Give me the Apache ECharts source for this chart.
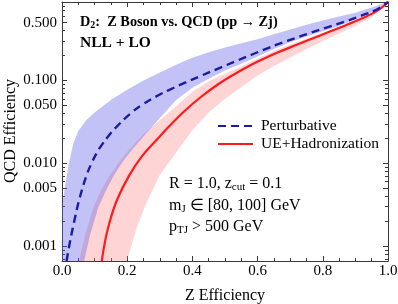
<!DOCTYPE html>
<html><head><meta charset="utf-8">
<script src="https://cdn.jsdelivr.net/npm/echarts@6/dist/echarts.min.js"></script>
<style>html,body{margin:0;padding:0;background:#fff}#c{width:398px;height:304px}</style>
</head><body><div id="c"></div>
<script>
// ---- data ----
const xTickLabels = ['0.0', '0.2', '0.4', '0.6', '0.8', '1.0'];
const yTickValues = [0.001, 0.005, 0.01, 0.05, 0.1, 0.5];
const yTickLabels = ['0.001', '0.005', '0.010', '0.050', '0.100', '0.500'];
const yMinorTicks = [0.0007, 0.0008, 0.0009, 0.002, 0.003, 0.004, 0.006, 0.007, 0.008, 0.009,
  0.02, 0.03, 0.04, 0.06, 0.07, 0.08, 0.09, 0.2, 0.3, 0.4, 0.6, 0.7, 0.8];
const Y_MIN = 0.00066, Y_MAX = 0.888;

// Perturbative (dashed) central curve: [Z eff, QCD eff]
const perturbative = [[0.014,0.00066],[0.024,0.0011],[0.04,0.00221],[0.055,0.00391],[0.076,0.00727],
  [0.09,0.0099],[0.106,0.0132],[0.121,0.01646],[0.147,0.02247],[0.162,0.02625],[0.208,0.0393],
  [0.248,0.0516],[0.294,0.0659],[0.328,0.0767],[0.376,0.0936],[0.426,0.1138],[0.479,0.1393],
  [0.53,0.169],[0.581,0.2047],[0.632,0.2466],[0.663,0.2745],[0.714,0.3243],[0.764,0.3789],
  [0.816,0.4416],[0.867,0.5131],[0.917,0.6043],[0.969,0.7319],[1.0,0.888]];
// Perturbative band edges
const perturbUpper = [[0,0.003],[0.01,0.00546],[0.02,0.0095],[0.035,0.0176],[0.05,0.0245],[0.075,0.0333],
  [0.1,0.0411],[0.15,0.0581],[0.2,0.0775],[0.25,0.1],[0.3,0.125],[0.35,0.155],[0.4,0.188],
  [0.45,0.219],[0.5,0.25],[0.55,0.282],[0.6,0.316],[0.65,0.362],[0.7,0.412],[0.75,0.47],
  [0.8,0.53],[0.85,0.595],[0.9,0.66],[0.95,0.76],[1.0,0.888]];
const perturbLower = [[0.068,0.00066],[0.086,0.00136],[0.111,0.0029],[0.135,0.0047],[0.16,0.0072],
  [0.185,0.0103],[0.21,0.0138],[0.25,0.021],[0.3,0.035],[0.35,0.058],[0.4,0.082],[0.45,0.105],
  [0.5,0.132],[0.55,0.159],[0.6,0.195],[0.65,0.24],[0.7,0.29],[0.75,0.34],[0.8,0.393],
  [0.85,0.455],[0.9,0.55],[0.95,0.67],[1.0,0.888]];

// UE+Hadronization (solid) central curve
const hadronization = [[0.122,0.00066],[0.135,0.0013],[0.15,0.0022],[0.17,0.0037],[0.205,0.007],
  [0.246,0.0123],[0.297,0.0205],[0.325,0.027],[0.376,0.0428],[0.426,0.0632],[0.479,0.0901],
  [0.53,0.12],[0.581,0.1547],[0.632,0.1932],[0.663,0.2188],[0.714,0.2643],[0.764,0.317],
  [0.816,0.382],[0.867,0.46],[0.917,0.556],[0.969,0.703],[1.0,0.888]];
const hadronUpper = [[0.052,0.00066],[0.071,0.00136],[0.096,0.0029],[0.12,0.0047],[0.147,0.0072],
  [0.175,0.0103],[0.2,0.0138],[0.25,0.0225],[0.3,0.033],[0.35,0.049],[0.4,0.073],[0.45,0.098],
  [0.5,0.121],[0.55,0.148],[0.6,0.185],[0.65,0.228],[0.7,0.272],[0.75,0.322],[0.8,0.378],
  [0.85,0.445],[0.9,0.528],[0.95,0.64],[1.0,0.888]];
const hadronLower = [[0.199,0.00066],[0.229,0.00165],[0.26,0.0034],[0.3,0.0072],[0.35,0.0135],
  [0.4,0.025],[0.45,0.041],[0.5,0.06],[0.55,0.083],[0.6,0.115],[0.65,0.15],[0.7,0.19],
  [0.75,0.24],[0.8,0.3],[0.85,0.37],[0.9,0.46],[0.95,0.58],[1.0,0.888]];

// ---- chart ----
const SERIF = 'Liberation Serif';
const FRAME = '#3a3a3a';
const L = v => Math.log10(v);

function bandSeries(name, upper, lower, fill) {
  return {
    type: 'custom', name: name, silent: true, clip: true, z: 1,
    data: [[0.5, -1]],
    renderItem: function (params, api) {
      const pts = [];
      upper.forEach(p => pts.push(api.coord([p[0], L(p[1])])));
      for (let i = lower.length - 1; i >= 0; i--) pts.push(api.coord([lower[i][0], L(lower[i][1])]));
      if (upper[0][0] === 0 && upper[0][1] > Y_MIN) pts.push(api.coord([0, L(Y_MIN)]));
      return { type: 'polygon', shape: { points: pts }, style: { fill: fill } };
    }
  };
}

function xAxisCfg(pos, labels) {
  return {
    type: 'value', position: pos, min: 0, max: 1, interval: 0.2,
    axisLine: { show: true, onZero: false, lineStyle: { color: FRAME, width: 1 } },
    axisTick: { show: true, inside: true, length: 5, lineStyle: { color: FRAME } },
    minorTick: { show: true, splitNumber: 4, length: 3, lineStyle: { color: FRAME } },
    splitLine: { show: false },
    axisLabel: labels ? {
      show: true, margin: 3, color: '#000', fontFamily: SERIF, fontSize: 15,
      formatter: v => xTickLabels[Math.round(v / 0.2)]
    } : { show: false },
    name: labels ? 'Z Efficiency' : '', nameLocation: 'middle', nameGap: 27,
    nameTextStyle: { color: '#000', fontFamily: SERIF, fontSize: 16 }
  };
}
function yAxisCfg(pos, values, len, labels, line) {
  const tv = values.map(L);
  return {
    type: 'value', position: pos, min: L(Y_MIN), max: L(Y_MAX),
    axisLine: { show: line, onZero: false, lineStyle: { color: FRAME, width: 1 } },
    axisTick: { show: true, inside: true, length: len, customValues: tv, lineStyle: { color: FRAME } },
    splitLine: { show: false },
    axisLabel: labels ? {
      show: true, margin: 5, color: '#000', fontFamily: SERIF, fontSize: 15, customValues: tv,
      formatter: v => {
        const i = yTickValues.findIndex(t => Math.abs(L(t) - v) < 1e-6);
        return i >= 0 ? yTickLabels[i] : '';
      }
    } : { show: false }
  };
}

const chart = echarts.init(document.getElementById('c'), null, { renderer: 'canvas' });
chart.setOption({
  animation: false,
  backgroundColor: '#fff',
  grid: { left: 62, right: 10, top: 2, bottom: 43, containLabel: false, outerBoundsMode: 'none' },
  xAxis: [xAxisCfg('bottom', true), xAxisCfg('top', false)],
  yAxis: [
    yAxisCfg('left', yTickValues, 5, true, true),
    yAxisCfg('left', yMinorTicks, 3, false, false),
    yAxisCfg('right', yTickValues, 5, false, true),
    yAxisCfg('right', yMinorTicks, 3, false, false)
  ],
  legend: {
    data: ['Perturbative', 'UE+Hadronization'],
    orient: 'vertical', left: 217, top: 118, padding: 0,
    itemWidth: 35, itemHeight: 14, itemGap: 2,
    itemStyle: { opacity: 0, color: 'transparent', borderWidth: 0 },
    textStyle: { fontFamily: SERIF, fontSize: 15.5, color: '#000', padding: [0, 0, 0, 3] }
  },
  series: [
    bandSeries('hadronBand', hadronUpper, hadronLower, 'rgba(255,120,120,0.32)'),
    bandSeries('perturbBand', perturbUpper, perturbLower, 'rgba(95,95,235,0.38)'),
    {
      type: 'line', name: 'UE+Hadronization', z: 5, symbol: 'none', smooth: 0.4, clip: true,
      data: hadronization.map(p => [p[0], L(p[1])]),
      lineStyle: { color: '#ff1a1a', width: 2.2 }, itemStyle: { color: '#ff1a1a' }
    },
    {
      type: 'line', name: 'Perturbative', z: 6, symbol: 'none', smooth: 0.4, clip: true,
      data: perturbative.map(p => [p[0], L(p[1])]),
      lineStyle: { color: '#1c1ca0', width: 2.4, type: [8, 5] }, itemStyle: { color: '#1c1ca0' }
    }
  ],
  graphic: [
    { type: 'text', x: 11, y: 131, rotation: Math.PI / 2, z: 10, style: {
      text: 'QCD Efficiency', fontFamily: SERIF, fontSize: 16, fill: '#000',
      align: 'center', verticalAlign: 'middle' } },
    { type: 'text', left: 80, top: 15, z: 10, style: {
      text: '{b|D}{bs|2}{b|:  Z Boson vs. QCD (pp → Zj)}',
      rich: {
        b: { fontFamily: SERIF, fontWeight: 'bold', fontSize: 14.3, lineHeight: 17, fill: '#000' },
        bs: { fontFamily: SERIF, fontWeight: 'bold', fontSize: 10, lineHeight: 10, verticalAlign: 'bottom', fill: '#000' }
      } } },
    { type: 'text', left: 80, top: 35, z: 10, style: {
      text: 'NLL + LO', fontFamily: SERIF, fontWeight: 'bold', fontSize: 15.5, fill: '#000' } },
    { type: 'text', left: 169, top: 176, z: 10, style: {
      text: '{n|R = 1.0, z}{s|cut}{n| = 0.1}',
      rich: {
        n: { fontFamily: SERIF, fontSize: 16, lineHeight: 18, fill: '#000' },
        s: { fontFamily: SERIF, fontSize: 11, lineHeight: 11, verticalAlign: 'bottom', fill: '#000' }
      } } },
    { type: 'text', left: 169, top: 198, z: 10, style: {
      text: '{n|m}{s|J}{n| ∈ [80, 100] GeV}',
      rich: {
        n: { fontFamily: SERIF, fontSize: 16, lineHeight: 18, fill: '#000' },
        s: { fontFamily: SERIF, fontSize: 11, lineHeight: 11, verticalAlign: 'bottom', fill: '#000' }
      } } },
    { type: 'text', left: 169, top: 219, z: 10, style: {
      text: '{n|p}{s|TJ}{n| > 500 GeV}',
      rich: {
        n: { fontFamily: SERIF, fontSize: 16, lineHeight: 18, fill: '#000' },
        s: { fontFamily: SERIF, fontSize: 11, lineHeight: 11, verticalAlign: 'bottom', fill: '#000' }
      } } }
  ]
});
</script>
</body></html>
